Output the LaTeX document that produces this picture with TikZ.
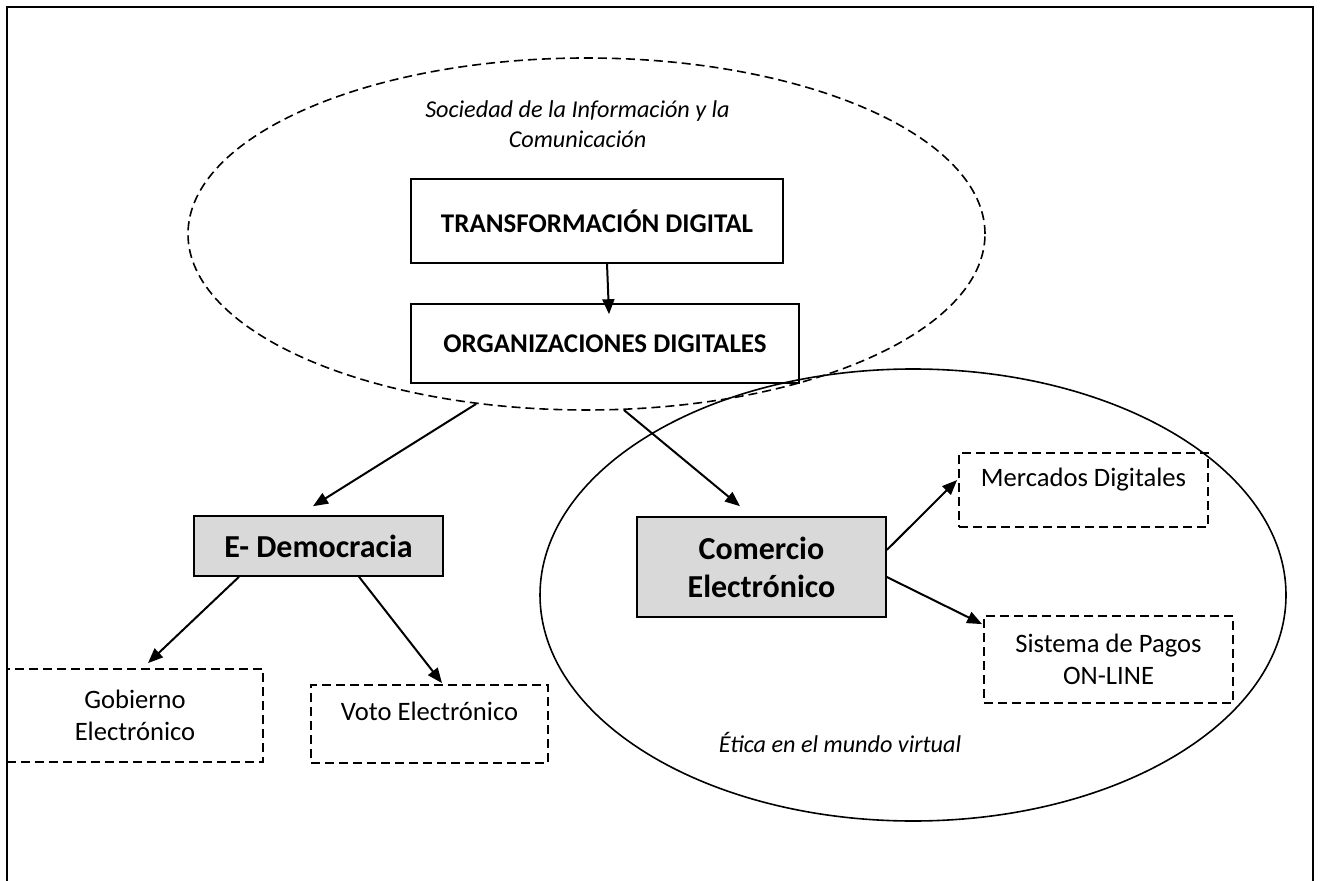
\documentclass[tikz,border=0pt]{standalone}
\usepackage{fontspec}
\setmainfont{Carlito}
\usetikzlibrary{shapes.geometric,arrows.meta,calc}

\definecolor{grisclaro}{HTML}{D9D9D9}

\tikzset{
  rayada/.style={dash pattern=on 4.5pt off 2.5pt},
  burbuja/.style={ellipse, draw, line width=0.8pt, inner sep=0pt},
  cajab/.style={rectangle, draw, line width=0.8pt, inner sep=0pt, font=\bfseries\fontsize{13.5}{16}\selectfont},
  cajag/.style={rectangle, draw, line width=0.8pt, inner sep=0pt, fill=grisclaro, align=center, font=\bfseries\fontsize{16}{19}\selectfont},
  cajad/.style={rectangle, draw, rayada, line width=0.9pt, inner sep=0pt, align=center, font=\fontsize{13.3}{16}\selectfont},
  nota/.style={align=center, font=\itshape\fontsize{12.1}{15}\selectfont},
  flecha/.style={-{Triangle[length=7.5pt,width=6pt]}, line width=1pt}
}

\begin{document}
\begin{tikzpicture}[x=0.5pt, y=-0.5pt]
\useasboundingbox (0,0) rectangle (1321,881);
%% Frame of the page, open at the bottom
\draw [line width=1pt] (7,881) -- (7,7) -- (1313,7) -- (1313,881);

%% The two big ellipses: the dashed one on top, the solid one for commerce
\node [burbuja, rayada, minimum width=398.5pt, minimum height=176pt] (soc) at (586.5,234) {};
\node [burbuja, minimum width=373pt, minimum height=226pt] (etic) at (913,595) {};
\node [nota] (socl) at (577.5,124) {Sociedad de la Información y la\\Comunicación};
\node [nota] (etical) at (840,742) {Ética en el mundo virtual};

%% Boxes inside the dashed ellipse
\node [cajab, minimum width=186pt, minimum height=42pt] (td) at (597,221) {TRANSFORMACIÓN DIGITAL};
\node [cajab, minimum width=194pt, minimum height=39.5pt] (od) at (605,343.5) {ORGANIZACIONES DIGITALES};

%% Grey boxes
\node [cajag, minimum width=124.5pt, minimum height=30pt] (edem) at (318.5,546) {E- Democracia};
\node [cajag, minimum width=124.5pt, minimum height=50pt] (com) at (761.5,567) {Comercio\\Electrónico};

%% Dashed boxes
\node [cajad, minimum width=128pt, minimum height=46.5pt] (gob) at (135,715.5) {Gobierno\\Electrónico};
\node [cajad, minimum width=118.5pt, minimum height=39pt, text height=9pt, text depth=13pt] (voto) at (429.5,724) {Voto Electrónico};
\node [cajad, minimum width=124.5pt, minimum height=37pt, text height=9pt, text depth=12pt] (merc) at (1083.5,490) {Mercados Digitales};
\node [cajad, minimum width=124.5pt, minimum height=43.5pt] (sist) at (1108.5,659.5) {Sistema de Pagos\\ON-LINE};

%% Arrows
\draw [flecha] ($(td.south)+(10,0)$) -- ($(od.north)+(4,11)$);
\draw [flecha] (soc.237) -- ($(edem.north)+(-5.5,-9)$);
\draw [flecha] (soc.282) -- ($(com.north)+(-21.5,-10)$);
\draw [flecha] ($(edem.south)+(-79.5,0)$) -- ($(gob.north)+(13,-5)$);
\draw [flecha] ($(edem.south)+(40.5,0)$) -- ($(voto.north)+(12.5,-1)$);
\draw [flecha] ($(com.east)+(0,-17)$) -- ($(merc.west)+(-1,-10)$);
\draw [flecha] ($(com.east)+(0,10)$) -- ($(sist.north west)+(-1,9)$);
\end{tikzpicture}
\end{document}
